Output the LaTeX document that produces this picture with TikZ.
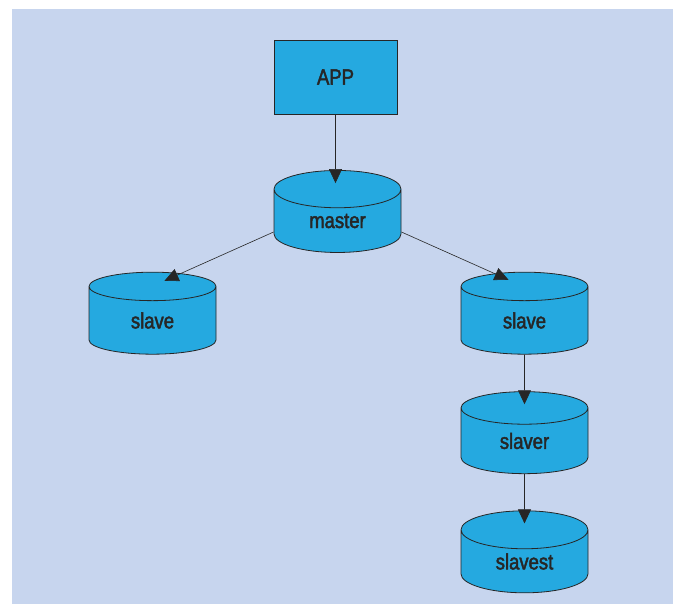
\documentclass[tikz,border=0pt]{standalone}
\usepackage{fontspec}
\setmainfont{Liberation Sans}[FakeStretch=0.84, FakeBold=2]
\usetikzlibrary{shapes.geometric,arrows.meta}
\definecolor{bgblue}{HTML}{C7D5EE}
\definecolor{boxblue}{HTML}{25A9E0}
\definecolor{inkgray}{HTML}{262626}
\tikzset{>={Triangle[length=14pt,width=13pt]}}
\tikzset{
  box/.style={draw=inkgray, fill=boxblue, thick, text=inkgray,
    minimum width=123pt, minimum height=74pt, font=\fontsize{22}{26}\selectfont},
  db/.style={cylinder, shape border rotate=90, aspect=0.66, draw=inkgray,
    fill=boxblue, thick, text=inkgray, inner sep=0pt,
    minimum width=127pt, minimum height=82pt, font=\fontsize{22}{26}\selectfont},
  link/.style={->, semithick, draw=inkgray}
}
\begin{document}
\begin{tikzpicture}[x=1pt, y=-1pt]
    \useasboundingbox (0,0) rectangle (677,604);
    \fill[bgblue] (12,9) rectangle (673,604);
    \node[box] (app) at (335.5,77) {APP};
    \node[db] (master) at (337.5,221) {master};
    \node[db] (slaveL) at (152.5,320.5) {slave};
    \node[db] (slaveR) at (524.5,320.5) {slave};
    \node[db] (slaver) at (524.5,441) {slaver};
    \node[db] (slavest) at (524.5,561.5) {slavest};
    \draw[link] (app.south) -- ([yshift=-13pt]app.south |- master.north);
    \draw[link] ([yshift=-11pt]master.west) -- ([xshift=12pt,yshift=-9pt]slaveL.north);
    \draw[link] ([yshift=-11pt]master.east) -- ([xshift=-16pt,yshift=-8pt]slaveR.north);
    \draw[link] (slaveR.south) -- ([yshift=-13pt]slaver.north);
    \draw[link] (slaver.south) -- ([yshift=-13pt]slavest.north);
\end{tikzpicture}
\end{document}
